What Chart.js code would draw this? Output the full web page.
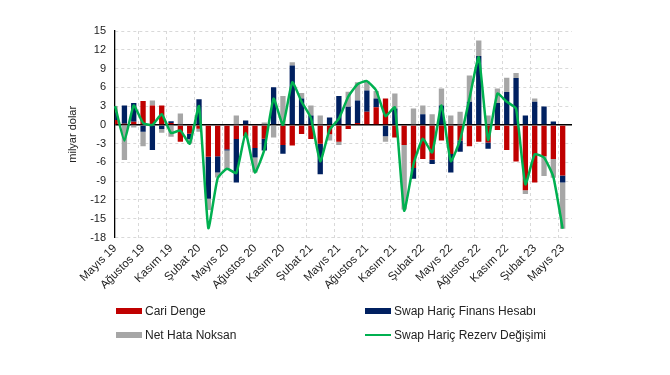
<!DOCTYPE html>
<html lang="tr">
<head>
<meta charset="UTF-8">
<title>Ödemeler Dengesi</title>
<style>
  body { margin: 0; background: #fff; }
  #kutu { position: relative; width: 670px; height: 375px; }
  #lejant { position: absolute; left: 0; top: 0; width: 670px; height: 375px; pointer-events: none;
            font-family: "Liberation Sans", Arial, sans-serif; font-size: 12px; color: #222; }
  .kalem { position: absolute; display: flex; align-items: center; height: 14px; white-space: nowrap; }
  .kutucuk { width: 26px; margin-right: 3px; }
</style>
</head>
<body>
<div id="kutu">
  <canvas id="grafik" width="670" height="375"></canvas>
  <div id="lejant"></div>
</div>

<script src="https://cdn.jsdelivr.net/npm/chart.js"></script>
<script>
// aylar (Mayıs 19 - Haziran 23, son ay boş)
const aylar = ['Ocak', 'Şubat', 'Mart', 'Nisan', 'Mayıs', 'Haziran', 'Temmuz', 'Ağustos', 'Eylül', 'Ekim', 'Kasım', 'Aralık']
const donemler = []
for (let k = 0; k < 50; k++) {
    const ay = (4 + k) % 12
    const yil = 19 + Math.floor((4 + k) / 12)
    donemler.push(aylar[ay] + ' ' + yil)
}

// milyar dolar
const cariDenge = [0.8, 0.2, 0.5, 3.8, 3.1, 3.1, 0.3, -2.7, -1.4, -0.6,
    -5.1, -5.0, -3.9, -2.25, -1.8, -3.7, -2.2, 0.0, -3.2, -3.3,
    -1.45, -2.25, -3.0, -1.5, -2.7, -0.65, 0.3, 2.1, 2.8, 4.2,
    -2.0, -3.2, -6.9, -5.45, -5.55, -2.5, -4.65, -2.5, -3.4, -2.7,
    -2.8, -0.8, -4.0, -5.85, -10.45, -9.2, -5.0, -5.45, -8.1]
const finansHesabi = [1.2, 2.9, 3.0, -1.1, -4.0, -0.65, 0.3, 0.0, -0.9, 4.1,
    -6.7, -2.6, -0.2, -6.95, 0.7, -1.5, -1.9, 6.0, -1.4, 9.5,
    4.2, 1.5, -4.9, 1.2, 4.6, 2.9, 3.6, 3.4, 1.4, -1.8,
    2.6, 0.0, -1.7, 1.7, -0.7, 3.1, -2.95, -1.8, 3.7, 11.0,
    -1.0, 3.5, 5.25, 7.5, 1.5, 3.7, 2.95, 0.55, -1.1]
const netHataNoksan = [1.0, -5.6, -0.4, -2.3, 0.8, -0.6, -1.9, 1.8, -0.7, -0.5,
    -1.8, -0.8, -3.1, 1.5, -0.2, -2.4, 0.4, -2.0, 4.6, 0.5,
    0.9, 1.6, 1.5, -1.0, -0.5, 2.4, 2.9, 1.5, 1.2, -0.9,
    2.4, -10.3, 2.6, 1.4, 1.7, 2.7, 1.5, 2.1, 4.2, 2.5,
    1.5, 2.3, 2.3, 0.8, -0.6, 0.5, -3.15, -3.0, -7.4]
const rezervDegisimi = [3.0, -2.5, 3.1, 0.3, 0.0, 1.7, -1.3, -0.9, -3.0, 3.0,
    -16.5, -8.5, -7.0, -7.7, -1.3, -7.6, -4.0, 4.2, 0.0, 6.8,
    3.7, 1.1, -5.8, -0.8, 1.0, 4.5, 6.5, 7.0, 5.5, 1.4,
    2.8, -13.7, -6.3, -2.2, -4.4, 3.1, -5.8, -2.4, 4.2, 10.8,
    -2.4, 5.0, 3.7, 2.6, -9.5, -4.7, -5.2, -8.3, -16.6]

const yEksen = { min: -18, max: 15, adim: 3 }

Chart.defaults.font.family = '"Liberation Sans", Arial, sans-serif'
Chart.defaults.color = '#222'

const grafik = new Chart(document.querySelector('#grafik'), {
    data: {
        labels: donemler,
        datasets: [
            { type: 'bar', label: 'Cari Denge', data: cariDenge, backgroundColor: '#C00000', order: 1 },
            { type: 'bar', label: 'Swap Hariç Finans Hesabı', data: finansHesabi, backgroundColor: '#002060', order: 1 },
            { type: 'bar', label: 'Net Hata Noksan', data: netHataNoksan, backgroundColor: '#A6A6A6', order: 1 },
            { type: 'line', label: 'Swap Hariç Rezerv Değişimi', data: rezervDegisimi, borderColor: '#00B050',
              borderWidth: 2.5, pointRadius: 0, tension: 0.15, order: 0 }
        ]
    },
    options: {
        responsive: false,
        animation: false,
        layout: { padding: { left: 66, right: 98, top: 31, bottom: 79 } },
        plugins: { legend: { display: false }, tooltip: { enabled: false } },
        datasets: { bar: { categoryPercentage: 0.6, barPercentage: 0.95 } },
        scales: {
            x: {
                stacked: true,
                offset: false,
                border: { display: false, dash: [3, 3] },
                grid: {
                    drawTicks: false,
                    color: c => (c.index % 3 === 0 ? '#D9D9D9' : 'rgba(0,0,0,0)')
                },
                ticks: {
                    autoSkip: false,
                    maxRotation: 45,
                    minRotation: 45,
                    padding: 4,
                    font: { size: 11.5 },
                    callback: function (v, i) { return i % 3 === 0 ? this.getLabelForValue(v) : '' }
                }
            },
            y: {
                stacked: true,
                min: yEksen.min,
                max: yEksen.max,
                border: { display: true, color: '#000', width: 1.3, dash: c => (c.tick && c.tick.value === 0 ? [] : [3, 3]) },
                grid: {
                    drawTicks: false,
                    color: c => (c.tick.value === 0 ? '#000' : '#D9D9D9'),
                    lineWidth: c => (c.tick.value === 0 ? 1.5 : 1)
                },
                ticks: { stepSize: yEksen.adim, padding: 9, font: { size: 11 } },
                title: { display: true, text: 'milyar dolar', font: { size: 11 }, padding: { top: 0, bottom: 2 } }
            }
        }
    }
})

// lejant, iki sütun
const lejant = document.querySelector('#lejant')
const yerler = [[116, 304], [365, 304], [116, 328], [365, 328]]
grafik.data.datasets.forEach((ds, k) => {
    const kalem = document.createElement('div')
    kalem.className = 'kalem'
    kalem.style.left = yerler[k][0] + 'px'
    kalem.style.top = yerler[k][1] + 'px'
    const kutucuk = document.createElement('span')
    kutucuk.className = 'kutucuk'
    if (ds.type === 'line') {
        kutucuk.style.height = '2.5px'
        kutucuk.style.background = ds.borderColor
    } else {
        kutucuk.style.height = '6px'
        kutucuk.style.background = ds.backgroundColor
    }
    kalem.appendChild(kutucuk)
    kalem.appendChild(document.createTextNode(ds.label))
    lejant.appendChild(kalem)
})
</script>
</body>
</html>
